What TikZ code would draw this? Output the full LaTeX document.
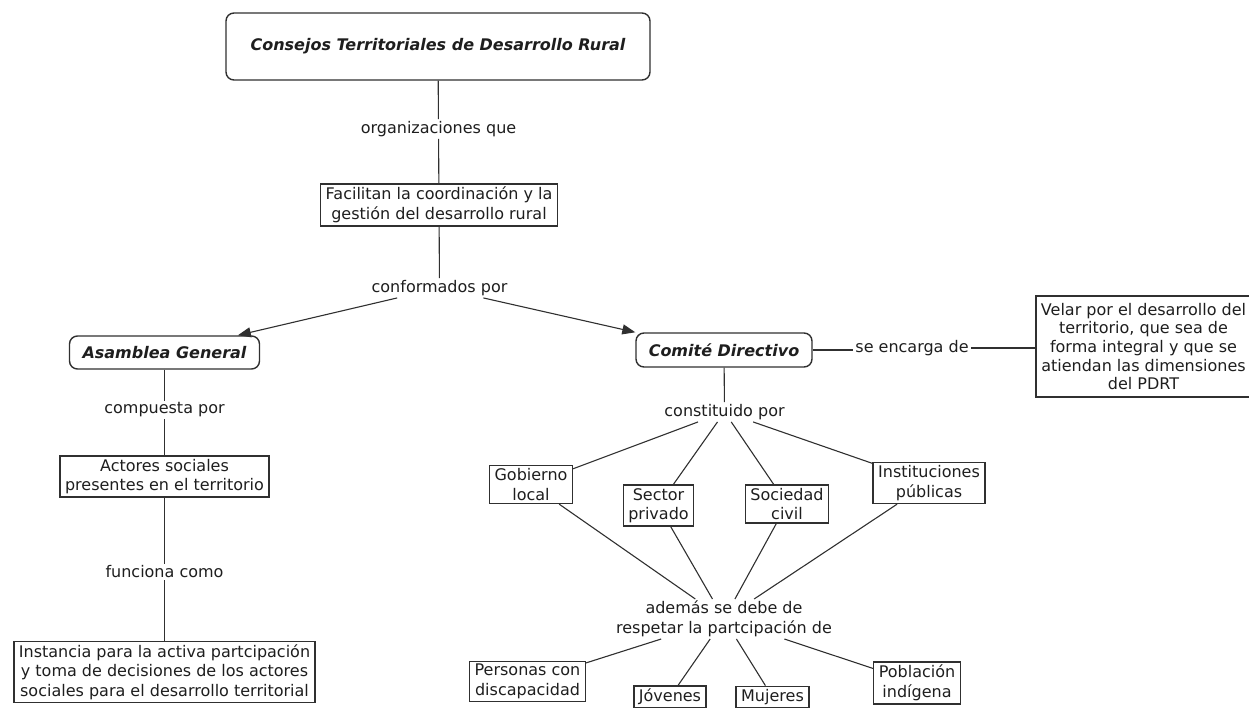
\documentclass[tikz,border=0pt]{standalone}
\usepackage{fontspec}
\setmainfont{DejaVu Sans}
\usetikzlibrary{arrows.meta}
\definecolor{ink}{HTML}{1E1E1E}
\definecolor{wire}{HTML}{303030}
\begin{document}
\begin{tikzpicture}[x=1pt,y=-1pt,
  every node/.style={font=\fontsize{16}{19.5}\selectfont, text=ink, align=center},
  concept/.style={draw=wire, line width=1.4pt, inner xsep=5pt, inner ysep=3pt},
  keybox/.style={draw=wire, line width=1.4pt, rounded corners=8pt,
    font=\fontsize{16}{19.5}\selectfont\bfseries\itshape},
  phrase/.style={inner xsep=2pt, inner ysep=2pt},
  link/.style={draw=wire, line width=1.1pt},
  arrowlink/.style={link, -{Triangle[length=13pt,width=10pt]}}]
\useasboundingbox (0,0) rectangle (1249,707);

% main concept and its description
\node[keybox, minimum width=424pt, minimum height=67pt] (ctdr) at (438,46.5)
  {Consejos Territoriales de Desarrollo Rural};
\node[phrase] (org) at (438.5,129) {organizaciones que};
\node[concept] (fac) at (439,205) {Facilitan la coordinación y la\\gestión del desarrollo rural};
\node[phrase] (conf) at (439.5,288) {conformados por};

% the two bodies
\node[keybox, minimum width=190pt, minimum height=33pt] (asam) at (164.5,352.5) {Asamblea General};
\node[keybox, minimum width=176pt, minimum height=34pt] (comite) at (724,350) {Comité Directivo};

% left branch
\node[phrase] (comp) at (164.5,410) {compuesta por};
\node[concept] (act) at (164.5,476.5) {Actores sociales\\presentes en el territorio};
\node[phrase] (func) at (164.5,572) {funciona como};
\node[concept] (inst) at (164.5,672) {Instancia para la activa partcipación\\y toma de decisiones de los actores\\sociales para el desarrollo territorial};

% right branch
\node[phrase] (enc) at (912,348) {se encarga de};
\node[concept, minimum width=215pt, minimum height=101pt, inner ysep=1pt,
  font=\fontsize{16}{18.6}\selectfont] (velar) at (1143.5,346.5)
  {Velar por el desarrollo del\\territorio, que sea de\\forma integral y que se\\atiendan las dimensiones\\del PDRT};
\node[phrase] (cons) at (724.5,412) {constituido por};
\node[concept] (gob) at (531,484.5) {Gobierno\\local};
\node[concept] (priv) at (658.5,505.5) {Sector\\privado};
\node[concept] (civ) at (787,504) {Sociedad\\civil};
\node[concept] (pub) at (929,483) {Instituciones\\públicas};
\node[phrase] (adem) at (724,619) {además se debe de\\respetar la partcipación de};
\node[concept] (disc) at (527.5,681.5) {Personas con\\discapacidad};
\node[concept] (jov) at (670,697) {Jóvenes};
\node[concept] (muj) at (772.5,697) {Mujeres};
\node[concept] (indi) at (917,683) {Población\\indígena};

% connectors
\draw[link] (ctdr) -- (org);
\draw[link] (org) -- (fac);
\draw[link] (fac) -- (conf);
\draw[arrowlink] (conf) -- (asam);
\draw[arrowlink] (conf) -- (comite.north west);

\draw[link] (asam) -- (comp);
\draw[link] (comp) -- (act);
\draw[link] (act) -- (func);
\draw[link] (func) -- (inst);

\draw[link] (comite.east) -- (comite.east -| enc.west);
\draw[link] (enc.east) -- (enc.east -| velar.west);
\draw[link] (comite) -- (cons);
\foreach \n in {gob,priv,civ,pub} {
  \draw[link] (cons) -- (\n);
  \draw[link] (\n) -- (adem);
}
\foreach \n in {disc,jov,muj,indi}
  \draw[link] (adem) -- (\n);
\end{tikzpicture}
\end{document}
